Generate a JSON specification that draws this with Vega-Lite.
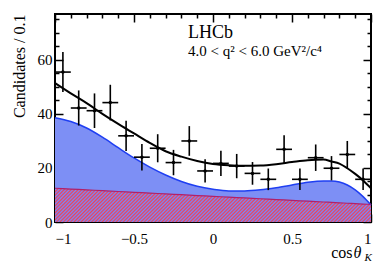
{
  "$schema": "https://vega.github.io/schema/vega-lite/v6.json",
  "width": 316,
  "height": 208,
  "autosize": "none",
  "padding": {"left": 55, "top": 14, "right": 21, "bottom": 44},
  "background": "white",
  "config": {
    "view": {"stroke": "black", "strokeWidth": 2},
    "axis": {"labelFont": "Liberation Serif", "titleFont": "Liberation Serif", "labelFontSize": 15, "titleFontSize": 16, "titleFontWeight": "normal", "labelColor": "black", "titleColor": "black", "tickColor": "black", "domain": false, "grid": false, "tickWidth": 1.5}
  },
  "datasets": {
    "curves": [
      {"x": -1.0, "total": 51.4, "sig": 38.6, "bkg": 12.5},
      {"x": -0.9, "total": 47.6, "sig": 37.2, "bkg": 12.2},
      {"x": -0.8, "total": 44.0, "sig": 34.8, "bkg": 11.9},
      {"x": -0.7, "total": 40.0, "sig": 31.4, "bkg": 11.6},
      {"x": -0.6, "total": 36.3, "sig": 27.5, "bkg": 11.3},
      {"x": -0.5, "total": 32.8, "sig": 23.7, "bkg": 11.0},
      {"x": -0.4, "total": 29.3, "sig": 20.3, "bkg": 10.7},
      {"x": -0.3, "total": 26.2, "sig": 17.4, "bkg": 10.4},
      {"x": -0.2, "total": 24.2, "sig": 15.0, "bkg": 10.1},
      {"x": -0.1, "total": 22.6, "sig": 13.2, "bkg": 9.8},
      {"x": 0.0, "total": 21.5, "sig": 12.1, "bkg": 9.5},
      {"x": 0.1, "total": 21.0, "sig": 11.5, "bkg": 9.2},
      {"x": 0.2, "total": 20.8, "sig": 11.5, "bkg": 8.9},
      {"x": 0.3, "total": 20.9, "sig": 11.9, "bkg": 8.6},
      {"x": 0.4, "total": 21.4, "sig": 12.7, "bkg": 8.3},
      {"x": 0.5, "total": 22.2, "sig": 13.7, "bkg": 8.0},
      {"x": 0.6, "total": 22.9, "sig": 14.7, "bkg": 7.7},
      {"x": 0.7, "total": 23.1, "sig": 15.2, "bkg": 7.4},
      {"x": 0.75, "total": 22.4, "sig": 15.2, "bkg": 7.25},
      {"x": 0.8, "total": 21.6, "sig": 14.8, "bkg": 7.1},
      {"x": 0.85, "total": 19.9, "sig": 13.7, "bkg": 6.95},
      {"x": 0.9, "total": 17.8, "sig": 11.9, "bkg": 6.8},
      {"x": 0.95, "total": 15.4, "sig": 9.4, "bkg": 6.65},
      {"x": 1.0, "total": 12.5, "sig": 6.3, "bkg": 6.5}
    ],
    "points": [
      {"x": -0.95, "xlo": -1.0, "xhi": -0.9, "y": 55.5, "lo": 48.1, "hi": 62.9},
      {"x": -0.85, "xlo": -0.9, "xhi": -0.8, "y": 42.2, "lo": 35.7, "hi": 48.7},
      {"x": -0.75, "xlo": -0.8, "xhi": -0.7, "y": 41.2, "lo": 34.8, "hi": 47.6},
      {"x": -0.65, "xlo": -0.7, "xhi": -0.6, "y": 44.2, "lo": 37.6, "hi": 50.8},
      {"x": -0.55, "xlo": -0.6, "xhi": -0.5, "y": 31.9, "lo": 26.3, "hi": 37.5},
      {"x": -0.45, "xlo": -0.5, "xhi": -0.4, "y": 24.0, "lo": 19.1, "hi": 28.9},
      {"x": -0.35, "xlo": -0.4, "xhi": -0.3, "y": 27.3, "lo": 22.1, "hi": 32.5},
      {"x": -0.25, "xlo": -0.3, "xhi": -0.2, "y": 22.0, "lo": 17.3, "hi": 26.7},
      {"x": -0.15, "xlo": -0.2, "xhi": -0.1, "y": 30.0, "lo": 24.5, "hi": 35.5},
      {"x": -0.05, "xlo": -0.1, "xhi": 0.0, "y": 18.9, "lo": 14.6, "hi": 23.2},
      {"x": 0.05, "xlo": 0.0, "xhi": 0.1, "y": 21.7, "lo": 17.0, "hi": 26.4},
      {"x": 0.15, "xlo": 0.1, "xhi": 0.2, "y": 20.7, "lo": 16.2, "hi": 25.2},
      {"x": 0.25, "xlo": 0.2, "xhi": 0.3, "y": 18.0, "lo": 13.8, "hi": 22.2},
      {"x": 0.35, "xlo": 0.3, "xhi": 0.4, "y": 15.8, "lo": 11.8, "hi": 19.8},
      {"x": 0.45, "xlo": 0.4, "xhi": 0.5, "y": 26.9, "lo": 21.7, "hi": 32.1},
      {"x": 0.55, "xlo": 0.5, "xhi": 0.6, "y": 15.8, "lo": 11.8, "hi": 19.8},
      {"x": 0.65, "xlo": 0.6, "xhi": 0.7, "y": 23.8, "lo": 18.9, "hi": 28.7},
      {"x": 0.75, "xlo": 0.7, "xhi": 0.8, "y": 19.9, "lo": 15.4, "hi": 24.4},
      {"x": 0.85, "xlo": 0.8, "xhi": 0.9, "y": 25.0, "lo": 20.0, "hi": 30.0},
      {"x": 0.95, "xlo": 0.9, "xhi": 1.0, "y": 15.8, "lo": 11.8, "hi": 19.8}
    ]
  },
  "resolve": {"axis": {"x": "independent", "y": "independent"}},
  "layer": [
    {
      "data": {"name": "curves"},
      "mark": {"type": "area", "interpolate": "monotone", "fill": "#7d8ff5", "opacity": 1},
      "encoding": {
        "x": {"field": "x", "type": "quantitative", "scale": {"domain": [-1, 1], "nice": false, "zero": false},
          "axis": {"orient": "bottom", "values": [-1, -0.5, 0, 0.5, 1], "format": "~g", "tickSize": -8, "labelPadding": 17, "title": "cos", "titleColor": "black", "titleAlign": "right", "titleAnchor": "end", "titleBaseline": "alphabetic", "titleX": 297, "titleY": 35}},
        "y": {"field": "sig", "type": "quantitative", "scale": {"domain": [0, 77], "nice": false},
          "axis": {"orient": "left", "values": [0, 20, 40, 60], "tickSize": -8, "labelPadding": 11, "title": "Candidates / 0.1", "titleColor": "black", "titleAnchor": "end", "titlePadding": 10}}
      }
    },
    {
      "data": {"name": "curves"},
      "mark": {"type": "area", "interpolate": "monotone", "opacity": 1,
        "fill": {"gradient": "linear", "x1": 0, "y1": 0, "x2": 1.1, "y2": 0.1175, "stops": [
          {"offset": 0, "color": "#e45"}, {"offset": 0.005, "color": "#78f"}, {"offset": 0.01, "color": "#e45"}, {"offset": 0.015, "color": "#78f"}, {"offset": 0.02, "color": "#e45"}, {"offset": 0.025, "color": "#78f"}, {"offset": 0.03, "color": "#e45"}, {"offset": 0.035, "color": "#78f"}, {"offset": 0.04, "color": "#e45"}, {"offset": 0.045, "color": "#78f"},
          {"offset": 0.05, "color": "#e45"}, {"offset": 0.055, "color": "#78f"}, {"offset": 0.06, "color": "#e45"}, {"offset": 0.065, "color": "#78f"}, {"offset": 0.07, "color": "#e45"}, {"offset": 0.075, "color": "#78f"}, {"offset": 0.08, "color": "#e45"}, {"offset": 0.085, "color": "#78f"}, {"offset": 0.09, "color": "#e45"}, {"offset": 0.095, "color": "#78f"},
          {"offset": 0.1, "color": "#e45"}, {"offset": 0.105, "color": "#78f"}, {"offset": 0.11, "color": "#e45"}, {"offset": 0.115, "color": "#78f"}, {"offset": 0.12, "color": "#e45"}, {"offset": 0.125, "color": "#78f"}, {"offset": 0.13, "color": "#e45"}, {"offset": 0.135, "color": "#78f"}, {"offset": 0.14, "color": "#e45"}, {"offset": 0.145, "color": "#78f"},
          {"offset": 0.15, "color": "#e45"}, {"offset": 0.155, "color": "#78f"}, {"offset": 0.16, "color": "#e45"}, {"offset": 0.165, "color": "#78f"}, {"offset": 0.17, "color": "#e45"}, {"offset": 0.175, "color": "#78f"}, {"offset": 0.18, "color": "#e45"}, {"offset": 0.185, "color": "#78f"}, {"offset": 0.19, "color": "#e45"}, {"offset": 0.195, "color": "#78f"},
          {"offset": 0.2, "color": "#e45"}, {"offset": 0.205, "color": "#78f"}, {"offset": 0.21, "color": "#e45"}, {"offset": 0.215, "color": "#78f"}, {"offset": 0.22, "color": "#e45"}, {"offset": 0.225, "color": "#78f"}, {"offset": 0.23, "color": "#e45"}, {"offset": 0.235, "color": "#78f"}, {"offset": 0.24, "color": "#e45"}, {"offset": 0.245, "color": "#78f"},
          {"offset": 0.25, "color": "#e45"}, {"offset": 0.255, "color": "#78f"}, {"offset": 0.26, "color": "#e45"}, {"offset": 0.265, "color": "#78f"}, {"offset": 0.27, "color": "#e45"}, {"offset": 0.275, "color": "#78f"}, {"offset": 0.28, "color": "#e45"}, {"offset": 0.285, "color": "#78f"}, {"offset": 0.29, "color": "#e45"}, {"offset": 0.295, "color": "#78f"},
          {"offset": 0.3, "color": "#e45"}, {"offset": 0.305, "color": "#78f"}, {"offset": 0.31, "color": "#e45"}, {"offset": 0.315, "color": "#78f"}, {"offset": 0.32, "color": "#e45"}, {"offset": 0.325, "color": "#78f"}, {"offset": 0.33, "color": "#e45"}, {"offset": 0.335, "color": "#78f"}, {"offset": 0.34, "color": "#e45"}, {"offset": 0.345, "color": "#78f"},
          {"offset": 0.35, "color": "#e45"}, {"offset": 0.355, "color": "#78f"}, {"offset": 0.36, "color": "#e45"}, {"offset": 0.365, "color": "#78f"}, {"offset": 0.37, "color": "#e45"}, {"offset": 0.375, "color": "#78f"}, {"offset": 0.38, "color": "#e45"}, {"offset": 0.385, "color": "#78f"}, {"offset": 0.39, "color": "#e45"}, {"offset": 0.395, "color": "#78f"},
          {"offset": 0.4, "color": "#e45"}, {"offset": 0.405, "color": "#78f"}, {"offset": 0.41, "color": "#e45"}, {"offset": 0.415, "color": "#78f"}, {"offset": 0.42, "color": "#e45"}, {"offset": 0.425, "color": "#78f"}, {"offset": 0.43, "color": "#e45"}, {"offset": 0.435, "color": "#78f"}, {"offset": 0.44, "color": "#e45"}, {"offset": 0.445, "color": "#78f"},
          {"offset": 0.45, "color": "#e45"}, {"offset": 0.455, "color": "#78f"}, {"offset": 0.46, "color": "#e45"}, {"offset": 0.465, "color": "#78f"}, {"offset": 0.47, "color": "#e45"}, {"offset": 0.475, "color": "#78f"}, {"offset": 0.48, "color": "#e45"}, {"offset": 0.485, "color": "#78f"}, {"offset": 0.49, "color": "#e45"}, {"offset": 0.495, "color": "#78f"},
          {"offset": 0.5, "color": "#e45"}, {"offset": 0.505, "color": "#78f"}, {"offset": 0.51, "color": "#e45"}, {"offset": 0.515, "color": "#78f"}, {"offset": 0.52, "color": "#e45"}, {"offset": 0.525, "color": "#78f"}, {"offset": 0.53, "color": "#e45"}, {"offset": 0.535, "color": "#78f"}, {"offset": 0.54, "color": "#e45"}, {"offset": 0.545, "color": "#78f"},
          {"offset": 0.55, "color": "#e45"}, {"offset": 0.555, "color": "#78f"}, {"offset": 0.56, "color": "#e45"}, {"offset": 0.565, "color": "#78f"}, {"offset": 0.57, "color": "#e45"}, {"offset": 0.575, "color": "#78f"}, {"offset": 0.58, "color": "#e45"}, {"offset": 0.585, "color": "#78f"}, {"offset": 0.59, "color": "#e45"}, {"offset": 0.595, "color": "#78f"},
          {"offset": 0.6, "color": "#e45"}, {"offset": 0.605, "color": "#78f"}, {"offset": 0.61, "color": "#e45"}, {"offset": 0.615, "color": "#78f"}, {"offset": 0.62, "color": "#e45"}, {"offset": 0.625, "color": "#78f"}, {"offset": 0.63, "color": "#e45"}, {"offset": 0.635, "color": "#78f"}, {"offset": 0.64, "color": "#e45"}, {"offset": 0.645, "color": "#78f"},
          {"offset": 0.65, "color": "#e45"}, {"offset": 0.655, "color": "#78f"}, {"offset": 0.66, "color": "#e45"}, {"offset": 0.665, "color": "#78f"}, {"offset": 0.67, "color": "#e45"}, {"offset": 0.675, "color": "#78f"}, {"offset": 0.68, "color": "#e45"}, {"offset": 0.685, "color": "#78f"}, {"offset": 0.69, "color": "#e45"}, {"offset": 0.695, "color": "#78f"},
          {"offset": 0.7, "color": "#e45"}, {"offset": 0.705, "color": "#78f"}, {"offset": 0.71, "color": "#e45"}, {"offset": 0.715, "color": "#78f"}, {"offset": 0.72, "color": "#e45"}, {"offset": 0.725, "color": "#78f"}, {"offset": 0.73, "color": "#e45"}, {"offset": 0.735, "color": "#78f"}, {"offset": 0.74, "color": "#e45"}, {"offset": 0.745, "color": "#78f"},
          {"offset": 0.75, "color": "#e45"}, {"offset": 0.755, "color": "#78f"}, {"offset": 0.76, "color": "#e45"}, {"offset": 0.765, "color": "#78f"}, {"offset": 0.77, "color": "#e45"}, {"offset": 0.775, "color": "#78f"}, {"offset": 0.78, "color": "#e45"}, {"offset": 0.785, "color": "#78f"}, {"offset": 0.79, "color": "#e45"}, {"offset": 0.795, "color": "#78f"},
          {"offset": 0.8, "color": "#e45"}, {"offset": 0.805, "color": "#78f"}, {"offset": 0.81, "color": "#e45"}, {"offset": 0.815, "color": "#78f"}, {"offset": 0.82, "color": "#e45"}, {"offset": 0.825, "color": "#78f"}, {"offset": 0.83, "color": "#e45"}, {"offset": 0.835, "color": "#78f"}, {"offset": 0.84, "color": "#e45"}, {"offset": 0.845, "color": "#78f"},
          {"offset": 0.85, "color": "#e45"}, {"offset": 0.855, "color": "#78f"}, {"offset": 0.86, "color": "#e45"}, {"offset": 0.865, "color": "#78f"}, {"offset": 0.87, "color": "#e45"}, {"offset": 0.875, "color": "#78f"}, {"offset": 0.88, "color": "#e45"}, {"offset": 0.885, "color": "#78f"}, {"offset": 0.89, "color": "#e45"}, {"offset": 0.895, "color": "#78f"},
          {"offset": 0.9, "color": "#e45"}, {"offset": 0.905, "color": "#78f"}, {"offset": 0.91, "color": "#e45"}, {"offset": 0.915, "color": "#78f"}, {"offset": 0.92, "color": "#e45"}, {"offset": 0.925, "color": "#78f"}, {"offset": 0.93, "color": "#e45"}, {"offset": 0.935, "color": "#78f"}, {"offset": 0.94, "color": "#e45"}, {"offset": 0.945, "color": "#78f"},
          {"offset": 0.95, "color": "#e45"}, {"offset": 0.955, "color": "#78f"}, {"offset": 0.96, "color": "#e45"}, {"offset": 0.965, "color": "#78f"}, {"offset": 0.97, "color": "#e45"}, {"offset": 0.975, "color": "#78f"}, {"offset": 0.98, "color": "#e45"}, {"offset": 0.985, "color": "#78f"}, {"offset": 0.99, "color": "#e45"}, {"offset": 0.995, "color": "#78f"},
          {"offset": 1, "color": "#e45"}
        ]}},
      "encoding": {
        "x": {"field": "x", "type": "quantitative", "axis": {"orient": "bottom", "values": [-0.9, -0.8, -0.7, -0.6, -0.4, -0.3, -0.2, -0.1, 0.1, 0.2, 0.3, 0.4, 0.6, 0.7, 0.8, 0.9], "tickSize": -4, "labels": false, "title": "θ", "titleColor": "black", "titleFontStyle": "italic", "titleAlign": "left", "titleAnchor": "end", "titleBaseline": "alphabetic", "titleX": 298, "titleY": 35}},
        "y": {"field": "bkg", "type": "quantitative", "axis": {"orient": "left", "values": [5, 10, 15, 25, 30, 35, 45, 50, 55, 65, 70, 75], "tickSize": -4, "labels": false, "title": null}}
      }
    },
    {
      "data": {"name": "curves"},
      "mark": {"type": "line", "interpolate": "monotone", "color": "#1f3ff2", "strokeWidth": 1.5},
      "encoding": {
        "x": {"field": "x", "type": "quantitative", "axis": {"orient": "top", "values": [-1, -0.5, 0, 0.5, 1], "tickSize": -8, "labels": false, "title": "K", "titleColor": "black", "titleFontSize": 11, "titleFontStyle": "italic", "titleAlign": "left", "titleAnchor": "end", "titleBaseline": "alphabetic", "titleX": 309, "titleY": 246}},
        "y": {"field": "sig", "type": "quantitative", "axis": {"orient": "right", "values": [0, 20, 40, 60], "tickSize": -8, "labels": false, "title": null}}
      }
    },
    {
      "data": {"name": "curves"},
      "mark": {"type": "line", "interpolate": "monotone", "color": "#b0206a", "strokeWidth": 1.2},
      "encoding": {
        "x": {"field": "x", "type": "quantitative", "axis": {"orient": "top", "values": [-0.9, -0.8, -0.7, -0.6, -0.4, -0.3, -0.2, -0.1, 0.1, 0.2, 0.3, 0.4, 0.6, 0.7, 0.8, 0.9], "tickSize": -4, "labels": false, "title": null}},
        "y": {"field": "bkg", "type": "quantitative", "axis": {"orient": "right", "values": [5, 10, 15, 25, 30, 35, 45, 50, 55, 65, 70, 75], "tickSize": -4, "labels": false, "title": null}}
      }
    },
    {
      "data": {"name": "curves"},
      "mark": {"type": "line", "interpolate": "monotone", "color": "black", "strokeWidth": 2},
      "encoding": {
        "x": {"field": "x", "type": "quantitative", "axis": null},
        "y": {"field": "total", "type": "quantitative", "axis": null}
      }
    },
    {
      "data": {"name": "points"},
      "mark": {"type": "rule", "color": "black", "strokeWidth": 1.6},
      "encoding": {
        "x": {"field": "x", "type": "quantitative", "axis": null},
        "y": {"field": "lo", "type": "quantitative", "axis": null},
        "y2": {"field": "hi"}
      }
    },
    {
      "data": {"name": "points"},
      "mark": {"type": "rule", "color": "black", "strokeWidth": 1.6},
      "encoding": {
        "x": {"field": "xlo", "type": "quantitative", "axis": null},
        "x2": {"field": "xhi"},
        "y": {"field": "y", "type": "quantitative", "axis": null}
      }
    },
    {
      "data": {"name": "points"},
      "mark": {"type": "circle", "color": "black", "opacity": 1, "size": 12},
      "encoding": {
        "x": {"field": "x", "type": "quantitative", "axis": null},
        "y": {"field": "y", "type": "quantitative", "axis": null}
      }
    },
    {
      "data": {"values": [{"label": "LHCb"}]},
      "mark": {"type": "text", "font": "Liberation Serif", "fontSize": 18, "align": "left", "baseline": "alphabetic", "color": "black"},
      "encoding": {
        "x": {"datum": -0.158, "type": "quantitative", "axis": null},
        "y": {"datum": 68.1, "type": "quantitative", "axis": null},
        "text": {"field": "label"}
      }
    },
    {
      "data": {"values": [{"label": "4.0 < q² < 6.0 GeV²/c⁴"}]},
      "mark": {"type": "text", "font": "Liberation Serif", "fontSize": 15, "align": "left", "baseline": "alphabetic", "color": "black"},
      "encoding": {
        "x": {"datum": -0.158, "type": "quantitative", "axis": null},
        "y": {"datum": 61.3, "type": "quantitative", "axis": null},
        "text": {"field": "label"}
      }
    }
  ]
}
